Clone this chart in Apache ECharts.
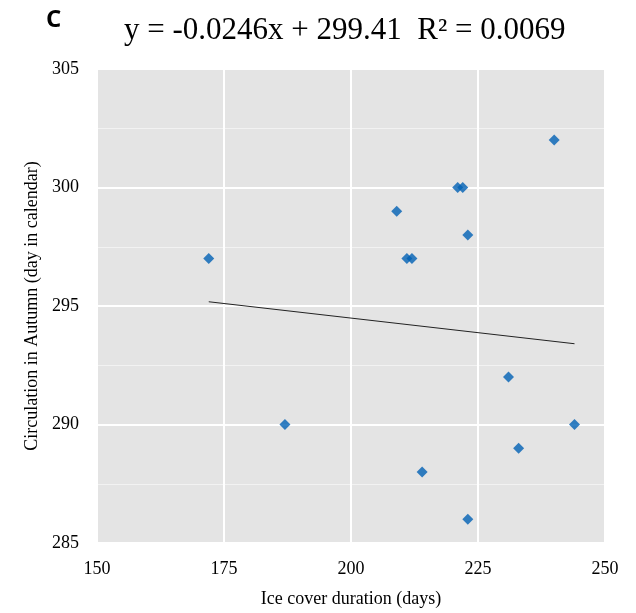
<!DOCTYPE html>
<html>
<head>
<meta charset="utf-8">
<script src="https://cdn.jsdelivr.net/npm/echarts@6/dist/echarts.min.js"></script>
<style>
    html, body { margin: 0; padding: 0; background: #fff; }
    #chart { width: 636px; height: 613px; }
</style>
</head>
<body>
<div id="chart"></div>
<script>
// ice cover duration (days) vs autumn circulation day
let iceDays = [172, 187, 209, 211, 212, 214, 221, 222, 223, 223, 231, 233, 240, 244];
let circDay = [297, 290, 299, 297, 297, 288, 300, 300, 298, 286, 292, 289, 302, 290];
let slope = -0.0246;
let intercept = 299.41;
let r2 = "0.0069";

let xMin = Math.min(...iceDays);
let xMax = Math.max(...iceDays);
let trend = [xMin, xMax].map(x => [x, slope * x + intercept]);

let serif = "'Liberation Serif', 'Times New Roman', serif";

let options = {
    animation: false,
    backgroundColor: "#fff",
    title: [
        {
            text: "C",
            left: 41,
            top: 3,
            textStyle: {fontFamily: "'Open Sans', sans-serif", fontWeight: "bold", fontSize: 24, color: "#000"},
        },
        {
            text: `y = ${slope}x + ${intercept}  R² = ${r2}`,
            left: 119,
            top: 10,
            textStyle: {fontFamily: serif, fontWeight: "normal", fontSize: 31, color: "#000"},
        },
    ],
    grid: {
        left: 97,
        right: 31,
        top: 69,
        bottom: 67,
        show: true,
        backgroundColor: "#e4e4e4",
        borderWidth: 0,
    },
    xAxis: {
        type: "value",
        min: 150,
        max: 250,
        interval: 25,
        name: "Ice cover duration (days)",
        nameLocation: "middle",
        nameGap: 47,
        nameTextStyle: {fontFamily: serif, fontSize: 18, color: "#000"},
        axisLine: {show: false},
        axisTick: {show: false},
        axisLabel: {fontFamily: serif, fontSize: 18, color: "#000", margin: 17},
        splitLine: {show: true, lineStyle: {color: "#fff", width: 2}},
    },
    yAxis: {
        type: "value",
        min: 285,
        max: 305,
        interval: 5,
        name: "Circulation in Autumn (day in calendar)",
        nameLocation: "middle",
        nameGap: 55,
        nameTextStyle: {fontFamily: serif, fontSize: 18, color: "#000"},
        axisLine: {show: false},
        axisTick: {show: false},
        axisLabel: {fontFamily: serif, fontSize: 18, color: "#000", margin: 18},
        splitLine: {show: true, lineStyle: {color: "#fff", width: 2}},
        minorTick: {show: false, splitNumber: 2},
        minorSplitLine: {show: true, lineStyle: {color: "#f2f2f2", width: 1}},
    },
    series: [
        {
            type: "scatter",
            symbol: "diamond",
            symbolSize: 11,
            itemStyle: {color: "#0060b4"},
            data: iceDays.map((x, i) => [x, circDay[i]]),
            z: 3,
        },
        {
            type: "line",
            symbol: "none",
            lineStyle: {color: "#222", width: 1},
            data: trend,
            z: 2,
        },
    ],
};

let chart = echarts.init(document.getElementById("chart"));
chart.setOption(options);
</script>
</body>
</html>
